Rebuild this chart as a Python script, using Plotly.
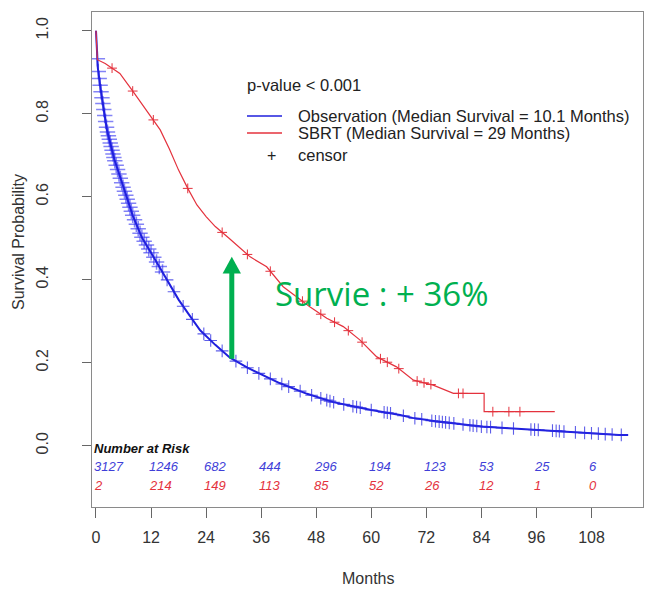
import numpy as np
import plotly.graph_objects as go

# ---- Kaplan-Meier estimates (months, survival probability) ----
obs_t = [0, 0.4, 1.0, 2.4, 4.0, 5.9, 8.0, 9.6, 10.1, 12.0, 14.0, 16.0, 18.0, 20.0,
         22.7, 26.0, 29.2, 33.0, 37.2, 40.0, 46.0, 51.7, 54.7, 60.0, 66.3, 69.0,
         74.0, 77.8, 84.0, 90.0, 96.8, 100.0, 103.0, 108.0, 114.0, 116.0]
obs_s = [1.0, 0.91, 0.86, 0.76, 0.69, 0.623, 0.555, 0.512, 0.50, 0.465, 0.428, 0.39,
         0.352, 0.32, 0.278, 0.243, 0.212, 0.188, 0.165, 0.151, 0.125, 0.105, 0.098,
         0.086, 0.074, 0.067, 0.059, 0.054, 0.046, 0.042, 0.038, 0.036, 0.033, 0.030,
         0.026, 0.026]

sbrt_t = [0, 0.3, 2.0, 5.2, 8.1, 11.0, 14.0, 16.0, 18.0, 20.0, 22.0, 24.0, 26.0, 29.0,
          33.6, 37.2, 40.8, 46.6, 50.3, 53.9, 57.5, 61.2, 65.5, 69.2, 73.5, 77.9,
          84.6, 84.6, 100.0]
sbrt_s = [1.0, 0.93, 0.921, 0.897, 0.853, 0.809, 0.761, 0.715, 0.664, 0.62, 0.58,
          0.552, 0.528, 0.50, 0.455, 0.431, 0.383, 0.335, 0.307, 0.287, 0.255, 0.214,
          0.19, 0.158, 0.146, 0.126, 0.126, 0.082, 0.082]

# censored observation times
obs_censor_early = [0.3, 0.5, 0.7, 0.9, 1.1, 1.3, 1.5, 1.7, 1.9, 2.1, 2.3, 2.5, 2.7,
                    2.9, 3.1, 3.3, 3.5, 3.7, 3.9, 4.1, 4.4, 4.7, 5.0, 5.3, 5.6, 5.9,
                    6.2, 6.5, 6.8, 7.1, 7.4, 7.7, 8.0, 8.4, 8.8, 9.2, 9.6, 10.0, 10.5,
                    11.0, 11.5, 12.0, 12.6, 13.2, 13.8, 14.5]
obs_censor_late = [15.5, 17.0, 19.0, 21.0, 23.5, 25.0, 27.5, 30.5, 33.0, 35.5, 38.0,
                   40.5, 42.0, 44.5, 47.0, 49.0, 50.3, 51.0, 51.8, 54.0, 56.0, 56.8,
                   57.6, 60.0, 62.8, 63.5, 64.2, 67.0, 69.5, 71.0, 73.2, 74.0, 74.8,
                   75.5, 76.2, 77.0, 78.0, 80.0, 81.5, 82.2, 83.0, 84.0, 85.2, 86.0,
                   88.5, 91.0, 94.8, 95.6, 96.4, 99.5, 100.3, 101.0, 102.0, 104.5,
                   106.5, 108.0, 109.5, 111.0, 112.5, 114.5]
sbrt_censor_t = [3.5, 8.0, 12.5, 20.0, 27.5, 33.0, 38.0, 45.0, 49.0, 52.0, 55.0, 58.0,
                 62.0, 63.5, 66.0, 70.0, 71.5, 73.0, 79.0, 80.0, 86.5, 90.0, 92.4]

# number at risk table
risk_times = [0, 12, 24, 36, 48, 60, 72, 84, 96, 108]
risk_obs = [3127, 1246, 682, 444, 296, 194, 123, 53, 25, 6]
risk_sbrt = [2, 214, 149, 113, 85, 52, 26, 12, 1, 0]

x_ticks = [0, 12, 24, 36, 48, 60, 72, 84, 96, 108]
y_ticks = [0.0, 0.2, 0.4, 0.6, 0.8, 1.0]

BLUE = "#1f1fdd"
RED = "#e4323d"
GREEN = "#00b050"
FONT = "Liberation Sans, Arial, sans-serif"

W, H = 646, 589
ML, MR, MT, MB = 92, 3, 12, 82
PW, PH = W - ML - MR, H - MT - MB


def px(x):
    return (x - ML) / PW


def py(y):
    return (H - MB - y) / PH


fig = go.Figure()

# censor marks sit on their curve
early_y = np.interp(obs_censor_early, obs_t, obs_s)
late_y = np.interp(obs_censor_late, obs_t, obs_s)
sbrt_cy = np.interp(sbrt_censor_t, sbrt_t, sbrt_s)

fig.add_trace(go.Scatter(x=obs_censor_early, y=early_y, mode="markers",
                         marker=dict(symbol="cross-thin", size=11,
                                     line=dict(color="rgba(50,50,240,0.6)", width=1.5)),
                         showlegend=False))
fig.add_trace(go.Scatter(x=obs_t, y=obs_s, mode="lines",
                         line=dict(color=BLUE, width=2), showlegend=False))
fig.add_trace(go.Scatter(x=obs_censor_late, y=late_y, mode="markers",
                         marker=dict(symbol="cross-thin", size=9,
                                     line=dict(color="rgba(40,40,225,0.75)", width=1.1)),
                         showlegend=False))
fig.add_trace(go.Scatter(x=sbrt_t, y=sbrt_s, mode="lines",
                         line=dict(color=RED, width=1.2), showlegend=False))
fig.add_trace(go.Scatter(x=sbrt_censor_t, y=sbrt_cy, mode="markers",
                         marker=dict(symbol="cross-thin", size=7,
                                     line=dict(color=RED, width=1)),
                         showlegend=False))

annotations = []
shapes = []

# number at risk
annotations.append(dict(x=0, y=-0.006, xref="x", yref="y", text="<b><i>Number at Risk</i></b>",
                        showarrow=False, xanchor="left", yanchor="middle", xshift=-4,
                        font=dict(family=FONT, size=13, color="#111")))
for t, a, b in zip(risk_times, risk_obs, risk_sbrt):
    annotations.append(dict(x=t, y=-0.049, xref="x", yref="y", text=f"<i>{a}</i>",
                            showarrow=False, xanchor="left", yanchor="middle", xshift=-4,
                            font=dict(family=FONT, size=13, color="#3f3fd8")))
    annotations.append(dict(x=t, y=-0.095, xref="x", yref="y", text=f"<i>{b}</i>",
                            showarrow=False, xanchor="left", yanchor="middle", xshift=-4,
                            font=dict(family=FONT, size=13, color="#e4323d")))

# legend block
lf = dict(family=FONT, size=16.5, color="#222")
annotations.append(dict(x=px(245), y=py(85), xref="paper", yref="paper", text="p-value < 0.001",
                        showarrow=False, xanchor="left", yanchor="middle", font=lf))
annotations.append(dict(x=px(296), y=py(116), xref="paper", yref="paper",
                        text="Observation (Median Survival = 10.1 Months)",
                        showarrow=False, xanchor="left", yanchor="middle", font=lf))
annotations.append(dict(x=px(296), y=py(133), xref="paper", yref="paper",
                        text="SBRT (Median Survival = 29 Months)",
                        showarrow=False, xanchor="left", yanchor="middle", font=lf))
annotations.append(dict(x=px(296), y=py(155), xref="paper", yref="paper", text="censor",
                        showarrow=False, xanchor="left", yanchor="middle", font=lf))
annotations.append(dict(x=px(271), y=py(155), xref="paper", yref="paper", text="+",
                        showarrow=False, xanchor="center", yanchor="middle",
                        font=dict(family=FONT, size=16, color="#222")))
shapes.append(dict(type="line", xref="paper", yref="paper", x0=px(247), x1=px(282),
                   y0=py(116), y1=py(116), line=dict(color=BLUE, width=1.5)))
shapes.append(dict(type="line", xref="paper", yref="paper", x0=px(247), x1=px(282),
                   y0=py(133), y1=py(133), line=dict(color=RED, width=1.5)))

# axis titles
annotations.append(dict(x=0.5, y=py(578), xref="paper", yref="paper", text="Months",
                        showarrow=False, xanchor="center", yanchor="middle",
                        font=dict(family=FONT, size=16, color="#333")))
annotations.append(dict(x=px(18), y=py(242), xref="paper", yref="paper",
                        text="Survival Probability", textangle=-90,
                        showarrow=False, xanchor="center", yanchor="middle",
                        font=dict(family=FONT, size=16, color="#333")))

# survival gain arrow
arrow_t = 29.6
arrow_base = float(np.interp(arrow_t, obs_t, obs_s))
arrow_tip = 0.455
head_h = 0.04
head_w = 2.0
shapes.append(dict(type="line", xref="x", yref="y", x0=arrow_t, x1=arrow_t,
                   y0=arrow_base, y1=arrow_tip - head_h + 0.005,
                   line=dict(color=GREEN, width=5)))
shapes.append(dict(type="path", xref="x", yref="y",
                   path=f"M {arrow_t - head_w},{arrow_tip - head_h} L {arrow_t + head_w},{arrow_tip - head_h} L {arrow_t},{arrow_tip} Z",
                   fillcolor=GREEN, line=dict(color=GREEN, width=0)))
annotations.append(dict(x=px(273), y=py(293), xref="paper", yref="paper",
                        text="Survie : + 36%", showarrow=False, xanchor="left",
                        yanchor="middle", font=dict(family="Open Sans, sans-serif", size=33, color=GREEN)))

fig.update_layout(
    width=W, height=H,
    margin=dict(l=ML, r=MR, t=MT, b=MB),
    paper_bgcolor="white", plot_bgcolor="white",
    showlegend=False,
    annotations=annotations, shapes=shapes,
    xaxis=dict(range=[-0.87, 119.23], tickvals=x_ticks, ticks="outside", ticklen=10,
               tickcolor="#666", tickwidth=1, showgrid=False, zeroline=False,
               showline=True, mirror=True, linecolor="#8a8a8a", linewidth=1.2,
               ticklabelstandoff=6,
               tickfont=dict(family=FONT, size=16, color="#333")),
    yaxis=dict(range=[-0.1477, 1.045], tickvals=y_ticks, tickformat=".1f",
               tickangle=-90, ticks="outside", ticklen=9, tickcolor="#666", tickwidth=1,
               showgrid=False, zeroline=False, showline=True, mirror=True,
               linecolor="#8a8a8a", linewidth=1.2, ticklabelstandoff=28,
               tickfont=dict(family=FONT, size=16, color="#333")),
)

fig.write_html("out.html")
